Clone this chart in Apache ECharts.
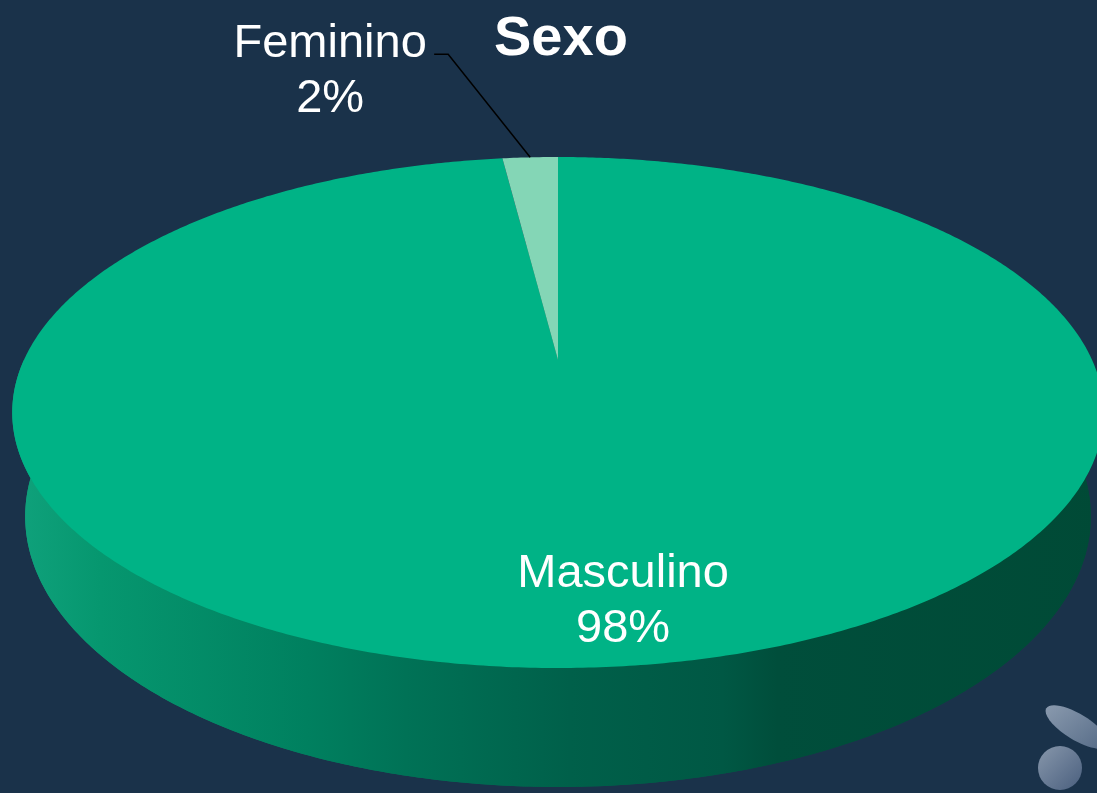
<!DOCTYPE html>
<html>
<head>
<meta charset="utf-8">
<title>Sexo</title>
<script src="https://cdn.jsdelivr.net/npm/echarts@6/dist/echarts.min.js"></script>
<style>
  html, body { margin: 0; padding: 0; background: #1A324A; }
  #chart { width: 1097px; height: 793px; }
</style>
</head>
<body>
<div id="chart"></div>
<script>
// datos
var categories = ['Masculino', 'Feminino'];
var values = [98, 2];
var topColors = ['#00B386', '#84D6B6'];
var labelPlace = ['inside', 'outside'];

var FONT = "'Liberation Sans', Arial, sans-serif";

// perspective camera for the 3D pie
var view = {
  cx: 558, cy: 360,
  focal: 2310, dist: 4.325,
  tilt: 27.27 * Math.PI / 180,
  depth: 0.22
};

var sideFill = {
  type: 'linear', x: 13, y: 0, x2: 1105, y2: 0, global: true,
  colorStops: [
    { offset: 0, color: '#10A27C' },
    { offset: 0.08, color: '#06976F' },
    { offset: 0.27, color: '#00805F' },
    { offset: 0.36, color: '#007256' },
    { offset: 0.51, color: '#00604A' },
    { offset: 0.65, color: '#005844' },
    { offset: 0.70, color: '#004E3B' },
    { offset: 1, color: '#004A36' }
  ]
};

var total = values.reduce(function (a, b) { return a + b }, 0);

function project (theta, r, bottom) {
  var s = Math.sin(view.tilt), c = Math.cos(view.tilt);
  var h = bottom ? view.depth : 0;
  var X = r * Math.cos(theta), Z = r * Math.sin(theta);
  var d = view.dist + h * s + Z * c;
  var up = Z * s - h * c;
  return [view.cx + view.focal * X / d, view.cy - view.focal * up / d];
}

function arc (a0, a1, r, bottom) {
  var n = Math.max(2, Math.ceil(Math.abs(a1 - a0) / (Math.PI / 360)));
  var pts = [];
  for (var k = 0; k <= n; k++) pts.push(project(a0 + (a1 - a0) * k / n, r, bottom));
  return pts;
}

function sliceAngles (i) {
  var cum = 0;
  for (var j = 0; j < i; j++) cum += values[j];
  var start = Math.PI / 2;
  return [start - cum / total * 2 * Math.PI, start - (cum + values[i]) / total * 2 * Math.PI];
}

function renderItem (params, api) {
  var i = params.dataIndex;
  var ang = sliceAngles(i);
  var a0 = ang[0], a1 = ang[1];
  var children = [];

  // bottom sector
  children.push({
    type: 'polygon', z2: 1,
    shape: { points: [project(0, 0, true)].concat(arc(a0, a1, 1, true)) },
    style: { fill: sideFill }
  });
  // front wall
  for (var k = -1; k <= 1; k++) {
    var lo = Math.max(a1, -Math.PI + 2 * Math.PI * k);
    var hi = Math.min(a0, 2 * Math.PI * k);
    if (lo < hi) {
      children.push({
        type: 'polygon', z2: 2,
        shape: { points: arc(lo, hi, 1, false).concat(arc(hi, lo, 1, true)) },
        style: { fill: sideFill }
      });
    }
  }
  // top face
  children.push({
    type: 'polygon', z2: 5,
    shape: { points: [project(0, 0, false)].concat(arc(a0, a1, 1, false)) },
    style: { fill: topColors[i] }
  });

  var mid = (a0 + a1) / 2;
  var text = categories[i] + '\n' + Math.round(values[i] / total * 100) + '%';
  var lx, ly;
  if (labelPlace[i] === 'inside') {
    var p = project(mid, 0.8, false);
    lx = p[0] + 33; ly = p[1] + 8;
  } else {
    var a = project(mid, 1, false);
    var elbow = [a[0] - 82, a[1] - 103];
    var end = [elbow[0] - 14, elbow[1]];
    children.push({
      type: 'polyline', z2: 8,
      shape: { points: [a, elbow, end] },
      style: { stroke: '#000', lineWidth: 1.5, fill: null }
    });
    lx = end[0] - 104; ly = elbow[1] + 17;
  }
  children.push({
    type: 'text', z2: 10, x: lx, y: ly,
    style: {
      text: text, fill: '#fff', font: '47px ' + FONT,
      align: 'center', verticalAlign: 'middle', lineHeight: 55
    }
  });

  return { type: 'group', children: children };
}

var chart = echarts.init(document.getElementById('chart'));
chart.setOption({
  backgroundColor: '#1A324A',
  animation: false,
  title: {
    text: 'Sexo',
    left: 489,
    top: 7,
    textStyle: { color: '#fff', fontSize: 56, fontWeight: 'bold', fontFamily: FONT }
  },
  graphic: [
    {
      type: 'ellipse', x: 1077, y: 727, rotation: -0.55, silent: true,
      shape: { cx: 0, cy: 0, rx: 36, ry: 13 },
      style: {
        fill: { type: 'linear', x: 0, y: 0, x2: 1, y2: 1,
          colorStops: [{ offset: 0, color: '#8B9BAF' }, { offset: 1, color: '#536985' }] }
      }
    },
    {
      type: 'circle', x: 1060, y: 768, silent: true,
      shape: { cx: 0, cy: 0, r: 22 },
      style: {
        fill: { type: 'linear', x: 0, y: 0, x2: 1, y2: 1,
          colorStops: [{ offset: 0, color: '#8797AB' }, { offset: 1, color: '#4A5F7E' }] }
      }
    }
  ],
  series: [{
    type: 'custom',
    coordinateSystem: 'none',
    silent: true,
    data: values.map(function (v, i) { return { name: categories[i], value: v } }),
    renderItem: renderItem
  }]
});
window.addEventListener('resize', function () { chart.resize() });
</script>
</body>
</html>
